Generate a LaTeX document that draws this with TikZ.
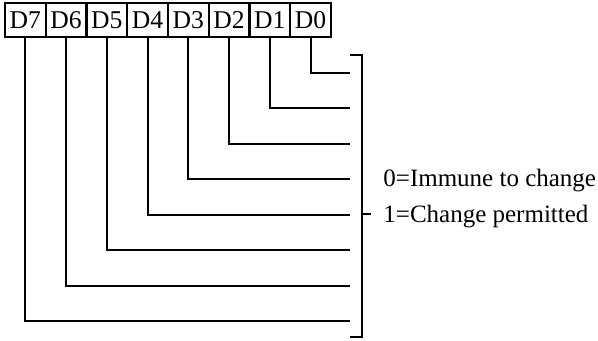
\documentclass[tikz,border=0pt]{standalone}
\usepackage{fontspec}
\setmainfont{Liberation Serif}
\usetikzlibrary{positioning}
\tikzset{
  bitbox/.style={draw, line width=1pt, minimum width=20.4pt, minimum height=17pt,
    inner sep=0pt, font=\fontsize{12.8}{15}\selectfont},
  wire/.style={line width=1pt},
  note/.style={anchor=base west, inner sep=0pt, font=\fontsize{12.5}{15}\selectfont},
}
\begin{document}
\begin{tikzpicture}[x=0.5pt, y=-0.5pt]
  \useasboundingbox (0,0) rectangle (598,341);
  % register bits
  \foreach \b [count=\i from 0] in {7,...,0}{
    \node[bitbox] (d\b) at ({5+40.75*(\i+0.5)}, 20) {D\b};
  }

  % one wire per bit
  \foreach \b in {0,...,7}{
    \coordinate (w\b) at (350, {73+35.43*\b});
    \draw[wire] (d\b.south) |- (w\b);
  }

  % bracket
  \coordinate (brtop) at (350, 55);
  \coordinate (brbot) at (350, 337);
  \coordinate (brmid) at (362, 214);
  \draw[wire] (brtop) -| (brbot -| brmid) -- (brbot);
  \draw[wire] (brmid) -- ++(9,0);

  % meaning of the bits
  \node[note] (imm) at (383, 187) {0=Immune to change};
  \node[note] (chg) at (383, 223) {1=Change permitted};
\end{tikzpicture}
\end{document}
